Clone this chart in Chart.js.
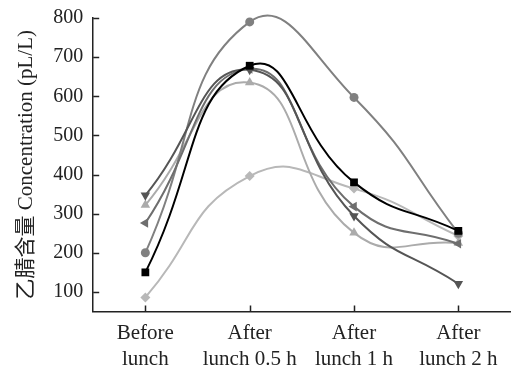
<!DOCTYPE html>
<html>
<head>
<meta charset="utf-8">
<script src="https://cdn.jsdelivr.net/npm/chart.js@4/dist/chart.umd.min.js"></script>
<style>
  html, body { margin: 0; padding: 0; background: #fff; }
  #wrap { width: 516px; height: 368px; }
</style>
</head>
<body>
<div id="wrap"><canvas id="acnChart"></canvas></div>
<script>
// Data
const timePoints = [["Before", "lunch"], ["After", "lunch 0.5 h"], ["After", "lunch 1 h"], ["After", "lunch 2 h"]];
const squareSeries = [150, 678, 380, 256];
const circleSeries = [200, 790, 597, 250];
const downTriSeries = [347, 668, 294, 121];
const leftTriSeries = [276, 670, 318, 223];
const upTriSeries = [322, 635, 251, 225];
const diamondSeries = [86, 396, 364, 243];
const yTicks = [100, 200, 300, 400, 500, 600, 700, 800];

const serif = "'Liberation Serif', 'Times New Roman', 'Noto Sans CJK SC', serif";

function makeSet(data, color, style, rotation, radius) {
  return {
    data: data,
    borderColor: color,
    backgroundColor: color,
    borderWidth: 2,
    pointStyle: style,
    rotation: rotation,
    pointRadius: radius,
    pointBorderWidth: 0,
    tension: 0.5,
    capBezierPoints: false,
    clip: false,
  };
}

// inward tick marks on both axes
const innerTicks = {
  id: "innerTicks",
  afterDraw(chart) {
    const ctx = chart.ctx;
    const x = chart.scales.x;
    const y = chart.scales.y;
    ctx.save();
    ctx.strokeStyle = "#222";
    ctx.lineWidth = 1.5;
    ctx.beginPath();
    yTicks.forEach(function (v) {
      const py = Math.round(y.getPixelForValue(v)) + 0.5;
      ctx.moveTo(x.left, py);
      ctx.lineTo(x.left + 6, py);
    });
    timePoints.forEach(function (t, i) {
      const px = Math.round(x.getPixelForValue(i)) + 0.5;
      ctx.moveTo(px, y.bottom);
      ctx.lineTo(px, y.bottom - 6);
    });
    ctx.stroke();
    ctx.restore();
  },
};

document.addEventListener("DOMContentLoaded", function () {
  const ctx = document.getElementById("acnChart").getContext("2d");

  new Chart(ctx, {
    type: "line",
    data: {
      labels: timePoints,
      datasets: [
        makeSet(squareSeries, "#000000", "rect", 0, 5.5),
        makeSet(downTriSeries, "#555555", "triangle", 180, 5.5),
        makeSet(leftTriSeries, "#6e6e6e", "triangle", -90, 5.5),
        makeSet(circleSeries, "#808080", "circle", 0, 4.5),
        makeSet(upTriSeries, "#ababab", "triangle", 0, 5.5),
        makeSet(diamondSeries, "#b8b8b8", "rectRot", 0, 5),
      ],
    },
    options: {
      responsive: true,
      maintainAspectRatio: false,
      animation: false,
      layout: { padding: { top: 0, right: 0, left: 14, bottom: -14 } },
      plugins: {
        legend: { display: false },
        tooltip: { enabled: false },
      },
      scales: {
        x: {
          offset: true,
          grid: { display: false, drawTicks: false },
          border: { display: true, color: "#222", width: 1.5 },
          ticks: {
            color: "#222",
            padding: 9,
            maxRotation: 0,
            autoSkip: false,
            font: { family: serif, size: 21, lineHeight: 1.25 },
          },
        },
        y: {
          min: 50,
          max: 800,
          afterBuildTicks: function (axis) {
            axis.ticks = yTicks.map(function (v) { return { value: v }; });
          },
          grid: { display: false, drawTicks: false },
          border: { display: true, color: "#222", width: 1.5 },
          ticks: {
            color: "#222",
            padding: 10,
            font: { family: serif, size: 20, lineHeight: 0.8 },
          },
          title: {
            display: true,
            text: "乙腈含量 Concentration (pL/L)",
            color: "#222",
            padding: { top: 0, bottom: 4 },
            font: { family: serif, size: 21 },
          },
        },
      },
    },
    plugins: [innerTicks],
  });
});
</script>
</body>
</html>
